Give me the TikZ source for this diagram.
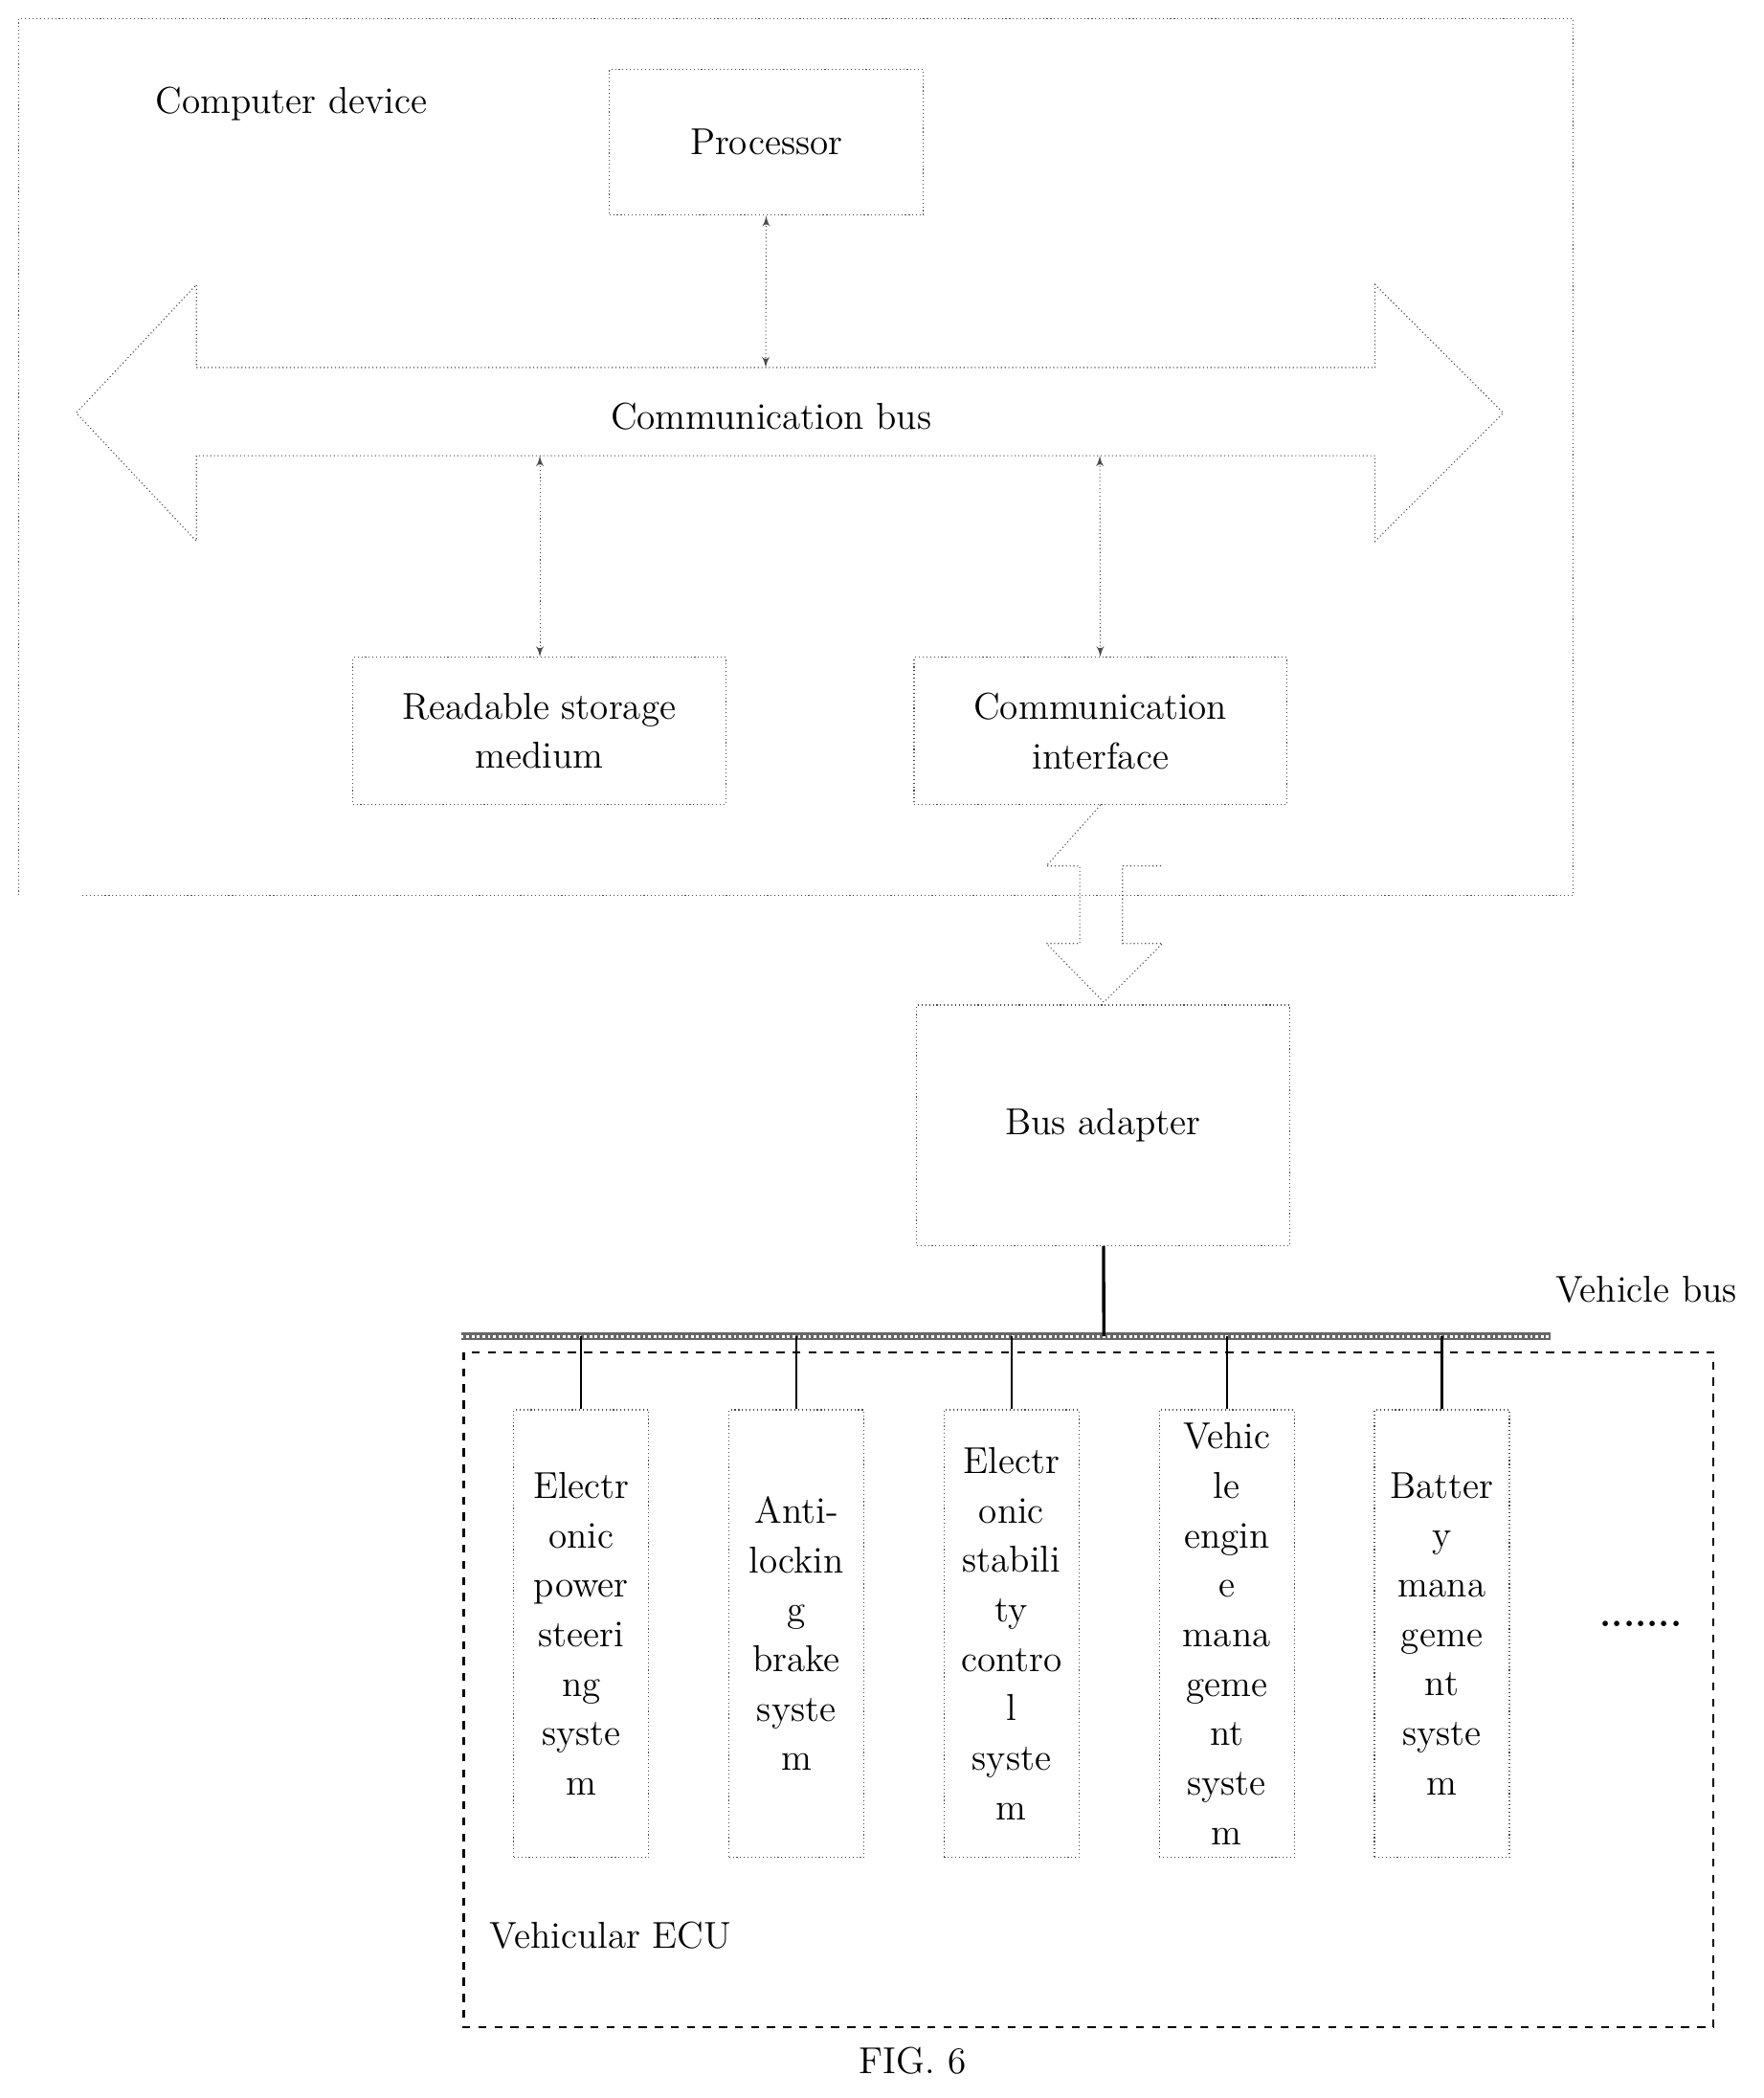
\documentclass[tikz,border=0pt]{standalone}
\usepackage{tikz}
\usetikzlibrary{arrows}
\begin{document}
\begin{tikzpicture}[x=0.5pt,y=-0.5pt]
\useasboundingbox (0,0) rectangle (1320,1570);
\tikzset{box/.style = {shape=rectangle,draw=black!70,densely dotted,inner sep=0pt,font=\fontsize{14}{18.5}\selectfont,align=center}}
\tikzset{lbl/.style = {font=\fontsize{14}{18.5}\selectfont}}
\tikzset{edge/.style = {<->,densely dotted,black!70,> = latex'}}
% computer device
\draw[densely dotted,black!70] (14,670) -- (14,14) -- (1177,14) -- (1177,670) -- (60,670);
\node[lbl] (cd) at (218,78) {Computer device};
\node[box,minimum width=117.5pt,minimum height=54.5pt] (p) at (573.5,106.5) {Processor};
\node[box,minimum width=139.5pt,minimum height=55pt] (r) at (403.5,547) {Readable storage\\medium};
\node[box,minimum width=139.5pt,minimum height=55pt] (ci) at (823.5,547) {Communication\\interface};
% bus
\draw[densely dotted,black!70] (147,275) -- (1029,275) -- (1029,213) -- (1125,309) -- (1029,405) -- (1029,341)
  -- (147,341) -- (147,405) -- (57,309) -- (147,213) -- cycle;
\node[lbl] (cb) at (577,312) {Communication bus};
\coordinate (b1) at (573,275);
\coordinate (b2) at (404,341);
\coordinate (b3) at (823,341);
\draw[edge] (p) -- (b1);
\draw[edge] (b2) -- (r.north -| b2);
\draw[edge] (b3) -- (ci);
% bus adapter
\node[box,minimum width=139.5pt,minimum height=90pt] (ba) at (825.5,842) {Bus adapter};
\draw[densely dotted,black!70] (ci.south) -- (783,648) -- (808,648) -- (808,706) -- (783,706) -- (826,750)
  -- (870,706) -- (840,706) -- (840,648) -- (870,648);
% vehicle bus
\draw[line width=3pt,black!60] (345,1000) -- (1160,1000);
\draw[line width=1pt,densely dotted,white] (345,1000) -- (1160,1000);
\coordinate (vb) at (826,1000);
\draw[line width=1.2pt] (ba) -- (vb);
\node[lbl] (vbl) at (1232,965) {Vehicle bus};
\draw[dashed,thick] (347,1012) rectangle (1282,1517);
\node[lbl] (ecu) at (457,1448) {Vehicular ECU};
\foreach \x/\t [count=\i] in {435/{Electr\\onic\\power\\steeri\\ng\\syste\\m},
  596/{Anti-\\lockin\\g\\brake\\syste\\m},
  757/{Electr\\onic\\stabili\\ty\\contro\\l\\syste\\m},
  918/{Vehic\\le\\engin\\e\\mana\\geme\\nt\\syste\\m},
  1079/{Batter\\y\\mana\\geme\\nt\\syste\\m}} {
  \node[box,minimum width=50.5pt,minimum height=167.5pt] (s\i) at (\x,1222.5) {\t};
  \draw[thick] (\x,1000) -- (s\i.north);
}
\node[lbl] (dots) at (1228,1215) {\textbf{.......}};
\node[lbl] (fig) at (683,1542) {FIG. 6};
\end{tikzpicture}
\end{document}
